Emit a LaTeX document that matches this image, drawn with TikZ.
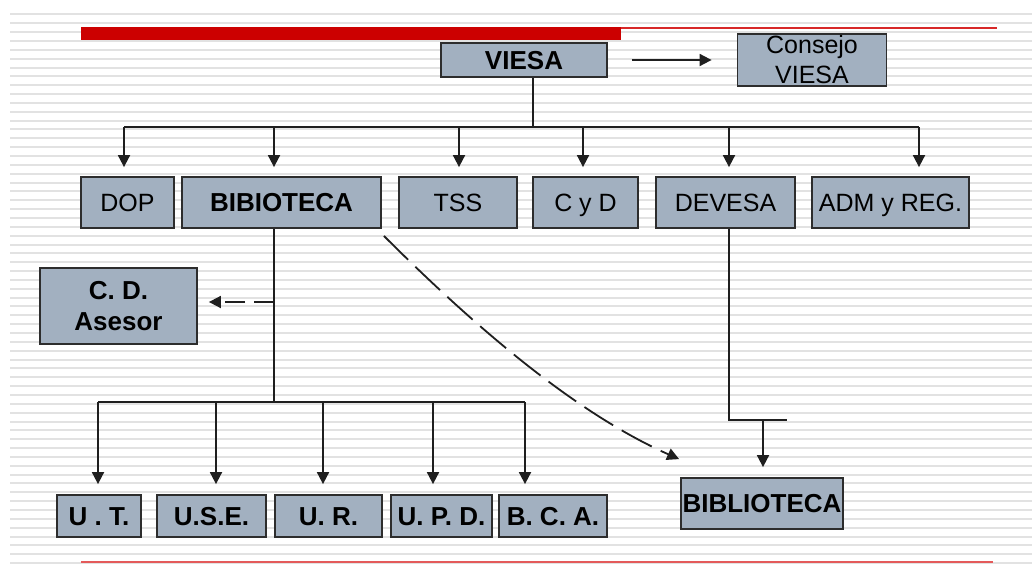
\documentclass[tikz,border=0pt]{standalone}
\usepackage{fontspec}
\setmainfont{Liberation Sans}
\usetikzlibrary{arrows.meta}
\definecolor{boxfill}{RGB}{162,176,192}
\definecolor{boxline}{RGB}{45,45,45}
\definecolor{stripecol}{RGB}{226,226,226}
\definecolor{barred}{RGB}{204,0,0}
\definecolor{linered}{RGB}{215,40,40}
\definecolor{botred}{RGB}{228,90,90}
\begin{document}
\begin{tikzpicture}[x=1pt,y=-1pt,
  box/.style={draw=boxline, line width=1.8pt, fill=boxfill, inner sep=0pt,
    minimum height=51pt, text height=18pt, text depth=0pt,
    font=\fontsize{25}{30}\selectfont},
  bbox/.style={box, font=\fontsize{26}{31}\selectfont\bfseries},
  mbox/.style={draw=boxline, line width=1.8pt, fill=boxfill, inner sep=0pt, align=center},
  conn/.style={draw=black!88, line width=1.8pt},
  arr/.style={conn, -{Triangle[width=12pt,length=12pt]}},
  dasharr/.style={arr, dash pattern=on 34pt off 10pt},
  shortdash/.style={arr, dash pattern=on 20pt off 9pt}]
\useasboundingbox (0,0) rectangle (1032,565);
\fill[white] (0,0) rectangle (1032,565);
% background stripes
\foreach \i in {0,...,62}
  \fill[stripecol] (10,{13.4+\i*8.85}) rectangle (1032,{15.4+\i*8.85});
% red bars
\fill[barred] (81,27) rectangle (621,40);
\draw[linered, line width=1.8pt] (621,27.8) -- (997,27.8);
\draw[botred, line width=2.4pt] (81,562) -- (993,562);

% nodes
\node[bbox, minimum width=166pt, minimum height=34pt] (V) at (524,60) {VIESA};
\node[mbox, minimum width=149pt, minimum height=52pt,
  font=\fontsize{25}{30}\selectfont] (CV) at (812,60) {Consejo\\VIESA};

\node[box,  minimum width=93pt]  (DOP) at (127.5,202.5) {DOP};
\node[bbox, minimum width=199pt] (B1)  at (281.5,202.5) {BIBIOTECA};
\node[box,  minimum width=118pt] (TSS) at (458,202.5) {TSS};
\node[box,  minimum width=105pt] (CyD) at (585.5,202.5) {C y D};
\node[box,  minimum width=139pt] (DEV) at (725.5,202.5) {DEVESA};
\node[box,  minimum width=157pt] (ADM) at (890.5,202.5) {ADM y REG.};

\node[mbox, minimum width=157pt, minimum height=76pt,
  font=\fontsize{26}{31}\selectfont\bfseries] (CD) at (118.5,306) {C. D.\\Asesor};

\node[bbox, minimum width=84pt,  minimum height=42pt] (UT)  at (99,516)    {U . T.};
\node[bbox, minimum width=109pt, minimum height=42pt] (USE) at (211.5,516) {U.S.E.};
\node[bbox, minimum width=107pt, minimum height=42pt] (UR)  at (328.5,516) {U. R.};
\node[bbox, minimum width=101pt, minimum height=42pt] (UPD) at (441.5,516) {U. P. D.};
\node[bbox, minimum width=108pt, minimum height=42pt] (BCA) at (553,516)   {B. C. A.};

\node[bbox, minimum width=162pt] (B2) at (762,503.5) {BIBLIOTECA};

% VIESA -> Consejo
\draw[arr, shorten <=24pt, shorten >=25pt] (V.east) -- (CV.west);

% top bus
\coordinate (vb) at (533,127);
\draw[conn] (vb |- V.south) -- (vb);
\coordinate (bL) at (124,127);
\coordinate (bR) at (919,127);
\draw[conn] (bL) -- (bR);
\foreach \x/\n in {124/DOP,274/B1,459/TSS,583/CyD,729/DEV,919/ADM}{
  \coordinate (d\n) at (\x,127);
  \draw[arr, shorten >=9pt] (d\n) -- (d\n |- \n.north);
}

% BIBIOTECA branch
\coordinate (lb) at (274,402);
\draw[conn] (lb |- B1.south) -- (lb);
\coordinate (cdj) at (274,302);
\draw[shortdash, shorten >=11pt] (cdj) -- (CD.east |- cdj);
\coordinate (lL) at (98,402);
\coordinate (lR) at (525,402);
\draw[conn] (lL) -- (lR);
\foreach \x/\n in {98/UT,216/USE,323/UR,433/UPD,525/BCA}{
  \coordinate (e\n) at (\x,402);
  \draw[arr, shorten >=10pt] (e\n) -- (e\n |- \n.north);
}

% DEVESA -> BIBLIOTECA
\coordinate (dv) at (729,420);
\coordinate (dvr) at (787,420);
\draw[conn] (dv |- DEV.south) -- (dv) -- (dvr);
\coordinate (dv2) at (763,420);
\draw[arr, shorten >=10pt] (dv2) -- (dv2 |- B2.north);

% dashed curve BIBIOTECA -> BIBLIOTECA
\draw[dasharr] ([shift={(2pt,-7pt)}]B1.south east)
  .. controls (483,335) and (580,415) .. ([shift={(-1pt,18pt)}]B2.north west);
\end{tikzpicture}
\end{document}
